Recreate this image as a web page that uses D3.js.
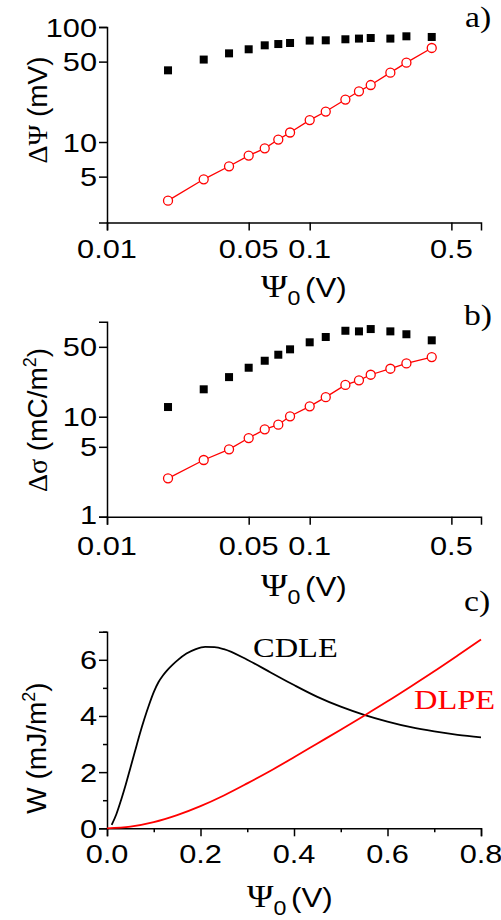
<!DOCTYPE html>
<html>
<head>
<meta charset="utf-8">
<script src="https://cdn.jsdelivr.net/npm/d3@7"></script>
<style>
  html, body { margin: 0; padding: 0; background: #fff; }
  svg { display: block; }
</style>
</head>
<body>
<svg id="chart" width="501" height="920"></svg>
<script>
// ---------------- data ----------------
const psi = [0.02, 0.03, 0.04, 0.05, 0.06, 0.07, 0.08, 0.1, 0.12, 0.15, 0.175, 0.2, 0.25, 0.3, 0.4];
const dPsiCDLE = [42.0, 52.1, 59.0, 64.0, 69.3, 71.1, 72.6, 76.2, 76.6, 78.2, 79.3, 80.2, 79.3, 83.0, 81.9];
const dPsiDLPE = [3.09, 4.74, 6.15, 7.62, 8.81, 10.5, 12.1, 15.5, 18.4, 23.4, 27.6, 31.3, 40.1, 49.0, 65.7];
const dSigCDLE = [12.5, 18.8, 24.9, 30.9, 36.3, 41.7, 47.2, 55.5, 62.7, 72.4, 71.4, 75.3, 71.4, 66.8, 58.1];
const dSigDLPE = [2.42, 3.69, 4.72, 6.12, 7.48, 8.32, 10.1, 12.7, 15.7, 20.8, 23.1, 26.3, 30.2, 34.1, 39.5];

const psiCDLE = [0.01, 0.02, 0.03, 0.04, 0.05, 0.06, 0.07, 0.08, 0.09, 0.1, 0.11, 0.12, 0.13, 0.14, 0.15, 0.17, 0.19, 0.21, 0.23, 0.25, 0.3, 0.35, 0.4, 0.45, 0.5, 0.55, 0.6, 0.65, 0.7, 0.75, 0.8];
const wCDLE   = [0.12, 0.5, 1.0, 1.55, 2.15, 2.75, 3.35, 3.9, 4.4, 4.85, 5.2, 5.45, 5.65, 5.82, 5.97, 6.22, 6.38, 6.46, 6.45, 6.38, 6.0, 5.55, 5.1, 4.68, 4.33, 4.04, 3.8, 3.6, 3.45, 3.33, 3.24];
const psiDLPE = [0.0, 0.05, 0.1, 0.15, 0.2, 0.25, 0.3, 0.35, 0.4, 0.45, 0.5, 0.55, 0.6, 0.65, 0.7, 0.75, 0.8];
const wDLPE   = [0.0, 0.06, 0.22, 0.47, 0.79, 1.17, 1.6, 2.05, 2.53, 3.02, 3.51, 4.01, 4.52, 5.05, 5.59, 6.15, 6.72];

const xLogTicks = [0.01, 0.05, 0.1, 0.5];
const xLogLabels = ["0.01", "0.05", "0.1", "0.5"];
const yATicks = [5, 10, 50, 100];
const yBTicks = [1, 5, 10, 50];
const xCTicks = [0, 0.2, 0.4, 0.6, 0.8];
const xCMinor = [0.1, 0.3, 0.5, 0.7];
const yCTicks = [0, 2, 4, 6];
const yCMinor = [1, 3, 5, 7];

// ---------------- layout ----------------
const svg = d3.select("#chart");
const X0 = 107, X1 = 481;
const SANS = "'Liberation Sans', Arial, sans-serif";
const SERIF = "'Liberation Serif', 'Times New Roman', serif";
const SX = 1.16;           // horizontal stretch of the reference lettering
const TICKFS = 26.5, TITLEFS = 27, ROTFS = 28;
const RED = "#ff0000";

const xLog = d3.scaleLog().domain([0.01, 0.7]).range([X0, X1]);
const yA = d3.scaleLog().domain([2, 100]).range([222.4, 27]);
const yB = d3.scaleLog().domain([1, 89]).range([516.7, 321.8]);
const xC = d3.scaleLinear().domain([0, 0.8]).range([X0, X1]);
const yC = d3.scaleLinear().domain([0, 7]).range([828.3, 631.7]);

function hText(x, y, anchor, size, family, fill) {
  return svg.append("text")
    .attr("transform", `translate(${x},${y}) scale(${SX},1)`)
    .attr("text-anchor", anchor).attr("font-size", size)
    .attr("font-family", family).attr("fill", fill || "#000");
}

function styleAxis(g) {
  g.selectAll("path.domain").attr("stroke", "#000").attr("stroke-width", 1.5);
  g.selectAll(".tick line").attr("stroke", "#000").attr("stroke-width", 1.5);
  g.selectAll(".tick text").remove();
}

function yTickLabels(scale, vals, lowShift) {
  vals.forEach((v, i) => hText(97, scale(v) + 9.5 - (i === 0 ? lowShift : 0), "end", TICKFS, SANS).text(String(v)));
}
function xTickLabels(scale, vals, labels, yBase) {
  vals.forEach((v, i) => hText(scale(v), yBase, "middle", TICKFS, SANS).text(labels[i]));
}

function psiTitle(x, y) {
  const t = hText(x, y, "start", TITLEFS, SANS);
  t.append("tspan").attr("font-family", SERIF).attr("font-size", 31).text("Ψ");
  t.append("tspan").attr("font-size", 20).attr("dx", 0).attr("dy", 8).text("0");
  t.append("tspan").attr("dx", 4).attr("dy", -8).text("(V)");
}

function logPanel(yScale, yTicks, axisY, cdle, dlpe, lowShift, xLabOff) {
  const gy = svg.append("g").attr("transform", `translate(${X0},0)`)
    .call(d3.axisLeft(yScale).tickValues(yTicks).tickSizeOuter(0).tickSize(8));
  styleAxis(gy);
  const gx = svg.append("g").attr("transform", `translate(0,${axisY})`)
    .call(d3.axisBottom(xLog).tickValues(xLogTicks).tickSizeOuter(0).tickSize(8));
  styleAxis(gx);
  yTickLabels(yScale, yTicks, lowShift);
  xTickLabels(xLog, xLogTicks, xLogLabels, axisY + xLabOff);

  // black squares
  svg.append("g").selectAll("rect").data(psi).join("rect")
    .attr("x", (d) => xLog(d) - 4).attr("y", (d, i) => yScale(cdle[i]) - 4)
    .attr("width", 8).attr("height", 8).attr("fill", "#000");
  // red line + open circles
  svg.append("path").datum(psi)
    .attr("d", d3.line().x(d => xLog(d)).y((d, i) => yScale(dlpe[i])))
    .attr("fill", "none").attr("stroke", RED).attr("stroke-width", 1.3);
  svg.append("g").selectAll("circle").data(psi).join("circle")
    .attr("cx", d => xLog(d)).attr("cy", (d, i) => yScale(dlpe[i])).attr("r", 4.5)
    .attr("fill", "#fff").attr("stroke", RED).attr("stroke-width", 1.3);
}

// ---------------- panel a ----------------
logPanel(yA, yATicks, 222.4, dPsiCDLE, dPsiDLPE, 0, 36);
psiTitle(261, 297);
{
  const t = svg.append("text").attr("transform", "translate(47,110) rotate(-90)")
    .attr("text-anchor", "middle").attr("font-family", SANS).attr("font-size", ROTFS);
  t.append("tspan").attr("font-family", SERIF).text("ΔΨ");
  t.append("tspan").text(" (mV)");
}
hText(465, 27, "start", 29, SERIF).text("a)");

// ---------------- panel b ----------------
logPanel(yB, yBTicks, 516.7, dSigCDLE, dSigDLPE, 2, 38);
psiTitle(261, 596);
{
  const t = svg.append("text").attr("transform", "translate(47,420) rotate(-90)")
    .attr("text-anchor", "middle").attr("font-family", SANS).attr("font-size", ROTFS);
  t.append("tspan").attr("font-family", SERIF).text("Δσ");
  t.append("tspan").text(" (mC/m");
  t.append("tspan").attr("font-size", 18).attr("dy", -11).text("2");
  t.append("tspan").attr("dy", 11).text(")");
}
hText(464, 325, "start", 29, SERIF).text("b)");

// ---------------- panel c ----------------
{
  const gy = svg.append("g").attr("transform", `translate(${X0},0)`)
    .call(d3.axisLeft(yC).tickValues(yCTicks).tickSizeOuter(0).tickSize(8));
  styleAxis(gy);
  const gym = svg.append("g").attr("transform", `translate(${X0},0)`)
    .call(d3.axisLeft(yC).tickValues(yCMinor).tickSizeOuter(0).tickSize(4));
  styleAxis(gym);
  gym.select("path.domain").remove();
  const gx = svg.append("g").attr("transform", `translate(0,${yC(0)})`)
    .call(d3.axisBottom(xC).tickValues(xCTicks).tickSizeOuter(0).tickSize(8));
  styleAxis(gx);
  const gxm = svg.append("g").attr("transform", `translate(0,${yC(0)})`)
    .call(d3.axisBottom(xC).tickValues(xCMinor).tickSizeOuter(0).tickSize(4));
  styleAxis(gxm);
  gxm.select("path.domain").remove();
  yTickLabels(yC, yCTicks, 0);
  xTickLabels(xC, xCTicks, xCTicks.map(d => d.toFixed(1)), yC(0) + 35);

  const line = d3.line().curve(d3.curveMonotoneX);
  svg.append("path")
    .attr("d", line(psiCDLE.map((d, i) => [xC(d), yC(wCDLE[i])])))
    .attr("fill", "none").attr("stroke", "#000").attr("stroke-width", 1.8);
  svg.append("path")
    .attr("d", line(psiDLPE.map((d, i) => [xC(d), yC(wDLPE[i])])))
    .attr("fill", "none").attr("stroke", RED).attr("stroke-width", 1.8);

  hText(253, 657, "start", 28, SERIF, "#000").text("CDLE");
  hText(414, 709, "start", 28, SERIF, RED).text("DLPE");
  hText(464, 611, "start", 29, SERIF).text("c)");

  psiTitle(247, 907);
  const t = svg.append("text").attr("transform", "translate(46,748) rotate(-90)")
    .attr("text-anchor", "middle").attr("font-family", SANS).attr("font-size", ROTFS);
  t.append("tspan").text("W (mJ/m");
  t.append("tspan").attr("font-size", 18).attr("dy", -11).text("2");
  t.append("tspan").attr("dy", 11).text(")");
}
</script>
</body>
</html>
